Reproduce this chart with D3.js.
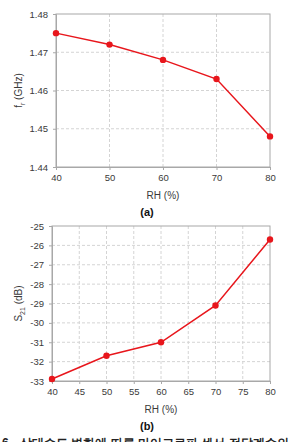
<!DOCTYPE html>
<html>
<head>
<meta charset="utf-8">
<script src="https://cdn.jsdelivr.net/npm/d3@7"></script>
<style>
  body { margin: 0; background: #fff; overflow: hidden; }
  text { font-family: "Liberation Sans", Arial, sans-serif; }
</style>
</head>
<body>
<div id="chart"></div>
<script>
//data
var rh = [40, 50, 60, 70, 80];
var freqValues = [1.475, 1.472, 1.468, 1.463, 1.448];
var s21Values = [-32.9, -31.7, -31.0, -29.1, -25.7];
var freqTicks = [1.44, 1.45, 1.46, 1.47, 1.48];
var s21Ticks = [-33, -32, -31, -30, -29, -28, -27, -26, -25];
var rhTicksA = [40, 50, 60, 70, 80];
var rhTicksB = [40, 45, 50, 55, 60, 65, 70, 75, 80];

var svgWidth = 293;
var svgHeight = 442;
var red = "#e8161c";

var svg = d3.select("#chart").append("svg")
    .attr("width", svgWidth)
    .attr("height", svgHeight);

//draws one panel
function drawPanel(opt) {
    var x = d3.scaleLinear().domain([40, 80]).range([opt.left, opt.right]);
    var y = d3.scaleLinear().domain(opt.yDomain).range([opt.bottom, opt.top]);
    var g = svg.append("g");

    //grid
    g.selectAll(".vgrid").data(opt.xTicks.slice(1, -1)).enter().append("line")
        .attr("x1", d => x(d)).attr("x2", d => x(d))
        .attr("y1", opt.top).attr("y2", opt.bottom)
        .attr("stroke", "#d4d4d4").attr("stroke-dasharray", "3,2");
    g.selectAll(".hgrid").data(opt.yTicks.slice(1, -1)).enter().append("line")
        .attr("x1", opt.left).attr("x2", opt.right)
        .attr("y1", d => y(d)).attr("y2", d => y(d))
        .attr("stroke", "#d4d4d4").attr("stroke-dasharray", "3,2");

    //frame
    g.append("rect")
        .attr("x", opt.left).attr("y", opt.top)
        .attr("width", opt.right - opt.left).attr("height", opt.bottom - opt.top)
        .attr("fill", "none").attr("stroke", "#a8a8a8");

    //axes
    var xAxis = g.append("g")
        .attr("transform", `translate(0, ${opt.bottom})`)
        .call(d3.axisBottom(x).tickValues(opt.xTicks).tickSize(3).tickPadding(4));
    var yAxis = g.append("g")
        .attr("transform", `translate(${opt.left}, 0)`)
        .call(d3.axisLeft(y).tickValues(opt.yTicks).tickSize(3).tickPadding(5).tickFormat(opt.fmt));
    [xAxis, yAxis].forEach(function(a) {
        a.select(".domain").attr("stroke", "#a8a8a8");
        a.selectAll(".tick line").attr("stroke", "#a8a8a8");
        a.selectAll(".tick text").attr("fill", "#3a3a3a").attr("font-size", "9.5px")
            .attr("font-family", "Liberation Sans, Arial, sans-serif");
    });

    //line and dots
    var pts = rh.map((d, i) => [d, opt.values[i]]);
    g.append("path")
        .datum(pts)
        .attr("fill", "none").attr("stroke", red).attr("stroke-width", 1.5)
        .attr("d", d3.line().x(d => x(d[0])).y(d => y(d[1])));
    g.selectAll(".dot").data(pts).enter().append("circle")
        .attr("cx", d => x(d[0])).attr("cy", d => y(d[1]))
        .attr("r", 3.2).attr("fill", red);

    //x title
    g.append("text")
        .attr("x", (opt.left + opt.right) / 2).attr("y", opt.bottom + 32)
        .attr("text-anchor", "middle").attr("font-size", "10px").attr("fill", "#3a3a3a")
        .text("RH (%)");

    //panel label
    g.append("text")
        .attr("x", 147).attr("y", opt.bottom + 49)
        .attr("text-anchor", "middle").attr("font-size", "11px").attr("font-weight", "bold")
        .attr("fill", "#111")
        .text(opt.label);

    //y title
    var yt = g.append("text")
        .attr("transform", `translate(22, ${(opt.top + opt.bottom) / 2}) rotate(-90)`)
        .attr("text-anchor", "middle").attr("font-size", "10px").attr("fill", "#3a3a3a");
    yt.append("tspan").text(opt.yName);
    yt.append("tspan").attr("font-size", "7px").attr("dy", 3).text(opt.ySub);
    yt.append("tspan").attr("dy", -3).text(" " + opt.yUnit);
}

drawPanel({
    left: 56, right: 270, top: 14, bottom: 167,
    yDomain: [1.44, 1.48], yTicks: freqTicks, xTicks: rhTicksA,
    values: freqValues, fmt: d3.format(".2f"),
    yName: "f", ySub: "r", yUnit: "(GHz)", label: "(a)"
});

drawPanel({
    left: 52, right: 270, top: 226, bottom: 381,
    yDomain: [-33, -25], yTicks: s21Ticks, xTicks: rhTicksB,
    values: s21Values, fmt: d => d3.format("d")(d).replace("−", "-"),
    yName: "S", ySub: "21", yUnit: "(dB)", label: "(b)"
});

//caption, cut by the bottom edge like in the source image
var cap = svg.append("text")
    .attr("y", 446.5)
    .attr("font-size", "12px").attr("font-weight", "bold").attr("fill", "#222")
    .attr("font-family", "Noto Sans CJK KR, sans-serif");
cap.append("tspan").attr("x", 2).text("6.");
cap.append("tspan").attr("x", 20).text("상대습도 변화에 따른 마이크로파 센서 전달계수의 그래프");
</script>
</body>
</html>
